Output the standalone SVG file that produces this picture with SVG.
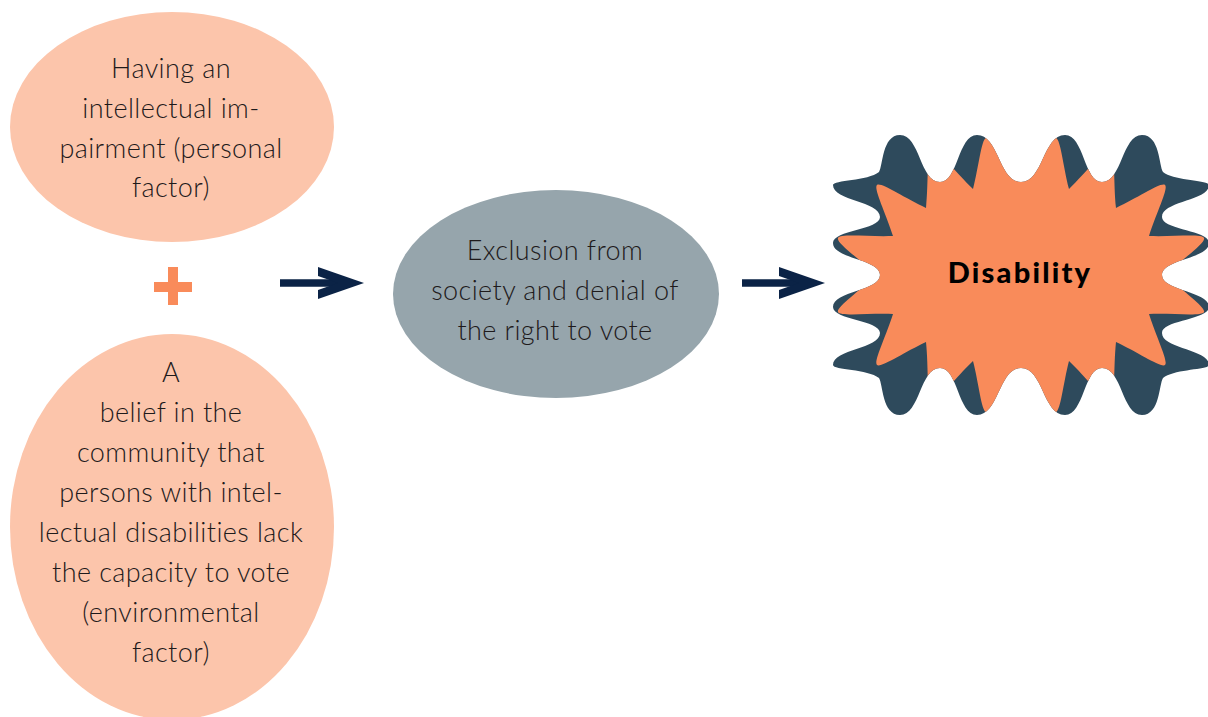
<svg xmlns="http://www.w3.org/2000/svg" xmlns:xlink="http://www.w3.org/1999/xlink" width="1208" height="717" viewBox="0 0 1208 717">
<style>
.peach{fill:#FCC5AB}
.grey{fill:#96A5AC}
.lbl{font-family:Lato,"Liberation Sans",sans-serif;font-weight:300;font-size:27px;letter-spacing:0.4px;fill:#1E1A1B;text-anchor:middle}
.big{font-family:Lato,"Liberation Sans",sans-serif;font-weight:900;font-size:29px;letter-spacing:2.2px;fill:#000;text-anchor:middle}
.shaft{stroke:#0B2346;stroke-width:7.5;fill:none}
.plus{fill:#F98B5A}
</style>
<defs>
<path id="burst" d="M 900 135 C 920 135, 920 182, 940 182 C 958 182, 958 135, 977 135 C 999 135, 999 182, 1021 182 C 1043 182, 1043 135, 1065 135 C 1084 135, 1084 182, 1102 182 C 1122 182, 1122 135, 1142 135 C 1160 135, 1159 166, 1163 172 C 1174 181, 1209 180, 1209 185 C 1209 201, 1162 201, 1162 217 C 1162 230, 1209 230, 1209 243 C 1209 259, 1162 259, 1162 275 C 1162 291, 1209 291, 1209 307 C 1209 320, 1162 320, 1162 333 C 1162 349, 1209 349, 1209 365 C 1209 370, 1174 369, 1163 378 C 1159 384, 1160 415, 1142 415 C 1122 415, 1122 368, 1102 368 C 1084 368, 1084 415, 1065 415 C 1043 415, 1043 368, 1021 368 C 999 368, 999 415, 977 415 C 958 415, 958 368, 940 368 C 920 368, 920 415, 900 415 C 882 415, 883 384, 879 378 C 868 369, 833 370, 833 365 C 833 349, 880 349, 880 333 C 880 320, 833 320, 833 307 C 833 291, 880 291, 880 275 C 880 259, 833 259, 833 243 C 833 230, 880 230, 880 217 C 880 201, 833 201, 833 185 C 833 180, 868 181, 879 172 C 883 166, 882 135, 900 135 Z"/>
<clipPath id="burstClip"><use xlink:href="#burst"/></clipPath>
<marker id="chev" markerUnits="userSpaceOnUse" viewBox="-21 -17 48 34" markerWidth="48" markerHeight="34" refX="0" refY="0" orient="auto">
<polygon points="-20,-16 26,0 -20,16 -20,7 0,0 -20,-7" fill="#0B2346"/>
</marker>
</defs>

<g id="node-personal">
<ellipse class="peach" cx="172" cy="127" rx="162" ry="115"/>
<text class="lbl" x="171" y="78">Having an</text>
<text class="lbl" x="171" y="118">intellectual im-</text>
<text class="lbl" x="171" y="158">pairment (personal</text>
<text class="lbl" x="171" y="197">factor)</text>
</g>

<g id="node-plus">
<rect class="plus" x="168" y="267" width="10" height="38"/>
<rect class="plus" x="154" y="282" width="38" height="10"/>
</g>

<g id="node-environmental">
<ellipse class="peach" cx="172" cy="527" rx="162" ry="193"/>
<text class="lbl" x="171" y="382">A</text>
<text class="lbl" x="171" y="422">belief in the</text>
<text class="lbl" x="171" y="462">community that</text>
<text class="lbl" x="171" y="502">persons with intel-</text>
<text class="lbl" x="171" y="542">lectual disabilities lack</text>
<text class="lbl" x="171" y="582">the capacity to vote</text>
<text class="lbl" x="171" y="622">(environmental</text>
<text class="lbl" x="171" y="662">factor)</text>
</g>

<g id="node-exclusion">
<ellipse class="grey" cx="556" cy="294" rx="163" ry="104"/>
<text class="lbl" x="555" y="260">Exclusion from</text>
<text class="lbl" x="555" y="300">society and denial of</text>
<text class="lbl" x="555" y="340">the right to vote</text>
</g>

<g id="node-disability">
<use xlink:href="#burst" fill="#2E4A5C"/>
<path clip-path="url(#burstClip)" fill="#F98B5A" d="M 1021 172 C 1036.7 156.7, 1051.3 136.3, 1056 138 C 1060.7 139.7, 1063.1 166.1, 1069 189 C 1087.4 171.5, 1104.4 147.8, 1110 150 C 1115.6 152.3, 1113.3 181.9, 1116 208 C 1138 197.7, 1161.2 181.8, 1165 185 C 1168.8 188.2, 1156.2 213.1, 1149 236 C 1173.7 236.9, 1202 233.4, 1204 238 C 1206 242.6, 1183.1 258.4, 1166 275 C 1183.1 291.6, 1206 307.4, 1204 312 C 1202 316.6, 1173.7 313.1, 1149 314 C 1156.2 336.9, 1168.8 361.8, 1165 365 C 1161.2 368.2, 1138 352.3, 1116 342 C 1113.3 368.1, 1115.6 397.7, 1110 400 C 1104.4 402.2, 1087.4 378.5, 1069 361 C 1063.1 383.9, 1060.7 410.3, 1056 412 C 1051.3 413.7, 1036.7 393.3, 1021 378 C 1005.3 393.3, 990.7 413.7, 986 412 C 981.3 410.3, 978.9 383.9, 973 361 C 954.6 378.5, 937.6 402.2, 932 400 C 926.4 397.7, 928.7 368.1, 926 342 C 904 352.3, 880.8 368.2, 877 365 C 873.2 361.8, 885.8 336.9, 893 314 C 868.3 313.1, 840 316.6, 838 312 C 836 307.4, 858.9 291.6, 876 275 C 858.9 258.4, 836 242.6, 838 238 C 840 233.4, 868.3 236.9, 893 236 C 885.8 213.1, 873.2 188.2, 877 185 C 880.8 181.8, 904 197.7, 926 208 C 928.7 181.9, 926.4 152.3, 932 150 C 937.6 147.8, 954.6 171.5, 973 189 C 978.9 166.1, 981.3 139.7, 986 138 C 990.7 136.3, 1005.3 156.7, 1021 172 Z"/>
<text class="big" x="1020" y="283">Disability</text>
</g>

<g id="connectors">
<path class="shaft" d="M 280 283 L 338 283" marker-end="url(#chev)"/>
<path class="shaft" d="M 742 283 L 799 283" marker-end="url(#chev)"/>
</g>
</svg>
